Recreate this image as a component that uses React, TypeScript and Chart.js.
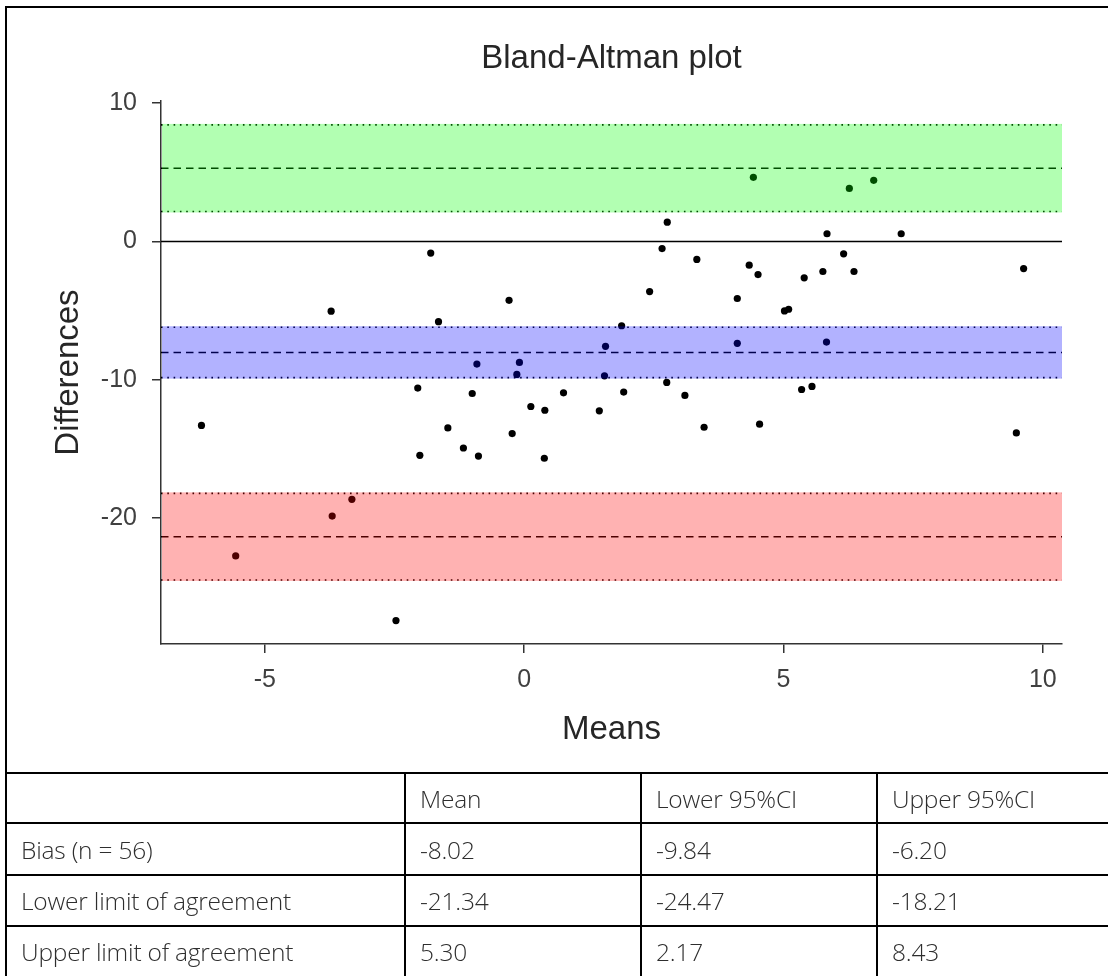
import React, { useEffect, useRef } from "react";
import { Chart, registerables } from "chart.js";

Chart.register(...registerables);

// ---- data ----
const means = [
  -6.22, -5.56, -3.72, -3.7, -3.32, -2.47, -2.05, -2.01, -1.8, -1.65, -1.47, -1.17, -1.0, -0.91,
  -0.88, -0.29, -0.23, -0.14, -0.09, 0.13, 0.39, 0.4, 0.76, 1.45, 1.55, 1.57, 1.88, 1.92, 2.42,
  2.66, 2.75, 2.76, 3.1, 3.33, 3.47, 4.11, 4.11, 4.34, 4.42, 4.51, 4.54, 5.02, 5.1, 5.35, 5.4,
  5.55, 5.76, 5.83, 5.84, 6.16, 6.27, 6.36, 6.74, 7.27, 9.49, 9.63,
];
const differences = [
  -13.3, -22.73, -5.04, -19.85, -18.64, -27.41, -10.6, -15.46, -0.84, -5.8, -13.48, -14.93, -10.99,
  -8.86, -15.51, -4.25, -13.89, -9.61, -8.74, -11.93, -15.67, -12.2, -10.94, -12.24, -9.71, -7.58,
  -6.09, -10.89, -3.62, -0.51, -10.19, 1.4, -11.13, -1.3, -13.43, -4.12, -7.36, -1.71, 4.64, -2.39,
  -13.21, -5.02, -4.9, -10.7, -2.63, -10.48, -2.17, -7.27, 0.56, -0.89, 3.84, -2.17, 4.42, 0.56,
  -13.84, -1.96,
];

const xTicks = [-5, 0, 5, 10];
const yTicks = [10, 0, -10, -20];
const xRange = [-7.0, 10.37];
const yRange = [-29.1, 10.15];

// [mean, lower 95%CI, upper 95%CI]
const biasRow = [-8.02, -9.84, -6.2];
const lowerLoARow = [-21.34, -24.47, -18.21];
const upperLoARow = [5.3, 2.17, 8.43];

const headerLabels = ["", "Mean", "Lower 95%CI", "Upper 95%CI"];
const rowLabels = ["Bias (n = 56)", "Lower limit of agreement", "Upper limit of agreement"];
const bandColors = ["rgba(0,0,255,0.3)", "rgba(255,0,0,0.3)", "rgba(0,255,0,0.3)"];

const FONT = "'Liberation Sans', Arial, Helvetica, sans-serif";

const bandRows = [biasRow, lowerLoARow, upperLoARow];

const limitsPlugin = {
  id: "baLimits",
  beforeDatasetsDraw(chart: any) {
    const { ctx, chartArea: a, scales } = chart;
    const y = scales.y;
    const hline = (v: number, dash: number[], w: number) => {
      const py = y.getPixelForValue(v);
      ctx.beginPath();
      ctx.setLineDash(dash);
      ctx.lineWidth = w;
      ctx.moveTo(a.left, py);
      ctx.lineTo(a.right, py);
      ctx.stroke();
    };
    ctx.save();
    ctx.strokeStyle = "#000";
    ctx.lineCap = "butt";
    hline(0, [], 1.6);
    bandRows.forEach((r) => {
      hline(r[0], [7.5, 5], 1.5);
      hline(r[1], [1.6, 4.7], 1.6);
      hline(r[2], [1.6, 4.7], 1.6);
    });
    ctx.restore();
  },
  afterDatasetsDraw(chart: any) {
    const { ctx, chartArea: a, scales } = chart;
    const y = scales.y;
    ctx.save();
    bandRows.forEach((r, i) => {
      const top = y.getPixelForValue(r[2]);
      const bot = y.getPixelForValue(r[1]);
      ctx.fillStyle = bandColors[i];
      ctx.fillRect(a.left + 1, top - 1, a.right - a.left - 1, bot - top + 2);
    });
    ctx.restore();
  },
};

function BlandAltman() {
  const ref = useRef<HTMLCanvasElement | null>(null);
  useEffect(() => {
    if (!ref.current) return;
    const chart = new Chart(ref.current, {
      type: "scatter",
      data: {
        datasets: [
          {
            data: means.map((m, i) => ({ x: m, y: differences[i] })),
            backgroundColor: "#000",
            borderWidth: 0,
            pointRadius: 3.6,
            pointHoverRadius: 3.6,
          },
        ],
      },
      options: {
        responsive: false,
        animation: false,
        events: [],
        layout: { padding: { left: 0, right: 46, top: 0, bottom: 0 } },
        plugins: {
          legend: { display: false },
          tooltip: { enabled: false },
          title: {
            display: true,
            fullSize: false,
            text: "Bland-Altman plot",
            color: "#262626",
            font: { family: FONT, size: 33, weight: "normal", lineHeight: 1.2 },
            padding: { top: 39, bottom: 22.5 },
          },
        },
        scales: {
          x: {
            type: "linear",
            min: xRange[0],
            max: xRange[1],
            bounds: "data",
            afterFit(s: any) {
              s.height = 129;
            },
            afterBuildTicks(s: any) {
              s.ticks = xTicks.map((v) => ({ value: v }));
            },
            grid: {
              display: true,
              drawOnChartArea: false,
              drawTicks: true,
              tickLength: 9,
              color: "#333",
              lineWidth: 1.5,
            },
            border: { display: true, color: "#333", width: 1.5 },
            ticks: {
              color: "#404040",
              font: { family: FONT, size: 25 },
              padding: 12,
              maxRotation: 0,
              autoSkip: false,
            },
            title: {
              display: true,
              text: "Means",
              color: "#262626",
              font: { family: FONT, size: 33, lineHeight: 1.2 },
              padding: { top: 0, bottom: 23 },
            },
          },
          y: {
            type: "linear",
            min: yRange[0],
            max: yRange[1],
            bounds: "data",
            afterFit(s: any) {
              s.width = 161;
            },
            afterBuildTicks(s: any) {
              s.ticks = yTicks.map((v) => ({ value: v }));
            },
            grid: {
              display: true,
              drawOnChartArea: false,
              drawTicks: true,
              tickLength: 9,
              color: "#333",
              lineWidth: 1.5,
            },
            border: { display: true, color: "#333", width: 1.5 },
            ticks: {
              color: "#404040",
              font: { family: FONT, size: 25 },
              padding: 15,
              autoSkip: false,
            },
            title: {
              display: true,
              text: "Differences",
              color: "#262626",
              font: { family: FONT, size: 33, lineHeight: 1.2 },
              padding: { top: 49, bottom: 0 },
            },
          },
        },
      },
      plugins: [limitsPlugin],
    });
    return () => chart.destroy();
  }, []);
  return (
    <canvas
      ref={ref}
      width={1108}
      height={773}
      style={{ position: "absolute", left: 0, top: 0, width: 1108, height: 773, display: "block" }}
    />
  );
}

const rowTops = [773, 823, 875, 926, 976];
const colLefts = [6, 405, 641, 877, 1108];

function StatsTable() {
  const cells: any[] = [];
  const rows = [headerLabels, ...rowLabels.map((l, i) => [l, ...bandRows[i].map((v) => v.toFixed(2))])];
  rows.forEach((r, ri) => {
    r.forEach((txt, ci) => {
      cells.push(
        <div
          key={`c${ri}-${ci}`}
          style={{
            position: "absolute",
            left: colLefts[ci] + 15,
            top: rowTops[ri],
            height: rowTops[ri + 1] - rowTops[ri],
            display: "flex",
            alignItems: "center",
            fontFamily: "'Open Sans', 'Noto Sans', sans-serif",
            fontWeight: 300,
            fontSize: 24.5,
            letterSpacing: -0.2,
            color: "#2e2e2e",
            whiteSpace: "nowrap",
          }}
        >
          {txt}
        </div>
      );
    });
  });
  const lines: any[] = [];
  rowTops.slice(0, 4).forEach((t, i) => {
    lines.push(
      <div key={`h${i}`} style={{ position: "absolute", left: 6, top: t - 1, width: 1102, height: 2, background: "#000" }} />
    );
  });
  colLefts.slice(1, 4).forEach((l, i) => {
    lines.push(
      <div key={`v${i}`} style={{ position: "absolute", left: l - 1, top: 773, width: 2, height: 203, background: "#000" }} />
    );
  });
  return (
    <>
      {lines}
      {cells}
    </>
  );
}

export default function App() {
  return (
    <div
      style={{
        position: "absolute",
        left: 0,
        top: 0,
        width: 1108,
        height: 976,
        overflow: "hidden",
        background: "#fff",
      }}
    >
      <BlandAltman />
      <div style={{ position: "absolute", left: 5, top: 6, width: 1103, height: 2, background: "#000" }} />
      <div style={{ position: "absolute", left: 5, top: 6, width: 2, height: 970, background: "#000" }} />
      <StatsTable />
    </div>
  );
}
